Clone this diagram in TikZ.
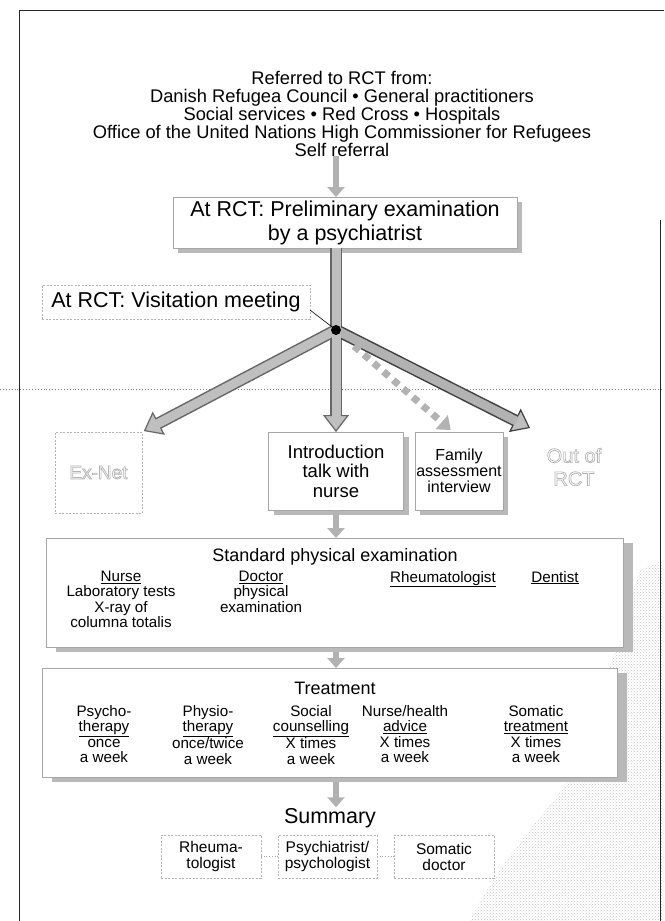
\documentclass[tikz,border=0pt]{standalone}
\usepackage{fontspec}
\setmainfont{Liberation Sans}
\usetikzlibrary{arrows.meta,shadows,calc,patterns}
\newcommand{\myfs}[2]{\fontsize{#1}{#2}\selectfont}
\newcommand{\hollow}[1]{\special{pdf:literal direct 1 Tr 0.7 w}#1\special{pdf:literal direct 0 Tr}}
\begin{document}
\begin{tikzpicture}[x=1pt,y=-1pt,
  every node/.style={inner sep=0pt, outer sep=0pt},
  sbox/.style={draw=gray!70, line width=0.6pt, fill=white, align=center,
    drop shadow={shadow xshift=#1, shadow yshift=-5pt, fill=gray!55, opacity=1}},
  sbox/.default=5pt,
  dbox/.style={draw=gray!60, line width=0.6pt, dash pattern=on 2pt off 1.5pt, fill=white, align=center},
  fatline/.style={draw=black!60, line width=12pt, -{Triangle[width=26pt,length=17pt,fill=gray!50,line width=1.2pt]}},
  fatfill/.style={draw=gray!50, line width=9pt, shorten >=15pt},
  smallarrow/.style={draw=gray!60, line width=6pt, -{Triangle[width=17pt,length=10pt]}},
  dasharrow/.style={draw=gray!60, line width=7pt, dash pattern=on 7pt off 6pt, -{Triangle[width=18pt,length=12pt]}},
  coltext/.style={align=center, anchor=north, font=\myfs{15.2}{15.5}},
]
\path[use as bounding box] (0,0) rectangle (664,921);

% scan speckle at lower right
\fill[pattern=crosshatch dots, pattern color=gray!45]
  (664,560) -- (640,570) .. controls (615,650) and (600,700) .. (585,760)
  .. controls (540,820) and (500,860) .. (470,921) -- (664,921) -- cycle;

% frame
\draw[black!85, line width=1pt] (19,921) -- (19,10) -- (664,10);
\draw[black!85, line width=1pt] (660,220) -- (660,921);
\draw[gray, dotted, line width=0.9pt] (0,389) -- (664,389);

% header
\node[align=center, font=\myfs{18.3}{17.8}] (header) at (342,114)
  {Referred to RCT from:\\
   Danish Refugea Council • General practitioners\\
   Social services • Red Cross • Hospitals\\
   Office of the United Nations High Commissioner for Refugees\\
   Self referral};

\coordinate (hub) at (336,330);

\node[sbox, minimum width=344, minimum height=51, font=\myfs{21.5}{24}] (prelim) at (345,222.5)
  {At RCT: Preliminary examination\\by a psychiatrist};
\node[dbox, minimum width=268, minimum height=34, font=\myfs{21.5}{24}] (vis) at (176,302)
  {At RCT: Visitation meeting};

\node[sbox, minimum width=135, minimum height=78, font=\myfs{18.5}{19.5}] (intro) at (336,471)
  {Introduction\\talk with\\nurse};
\node[sbox, minimum width=88, minimum height=78, font=\myfs{16}{16}] (family) at (459,471)
  {Family\\assessment\\interview};
\node[dbox, minimum width=87, minimum height=81, font=\myfs{19}{20}, text=gray!60] (exnet) at (98.5,472.5)
  {\hollow{Ex-Net}};
\node[align=center, font=\myfs{20}{23}, text=gray!60] (out) at (574,467) {\hollow{Out of}\\\hollow{RCT}};
\coordinate (outtip) at (530,428);

% arrows
\draw[smallarrow] (header.south -| hub) -- (prelim.north -| hub);
\draw[fatline] (prelim.south -| hub) -- (intro.north);
\draw[fatline, shorten >=2pt] (hub) -- (exnet.north east);
\draw[fatline, draw=black!75] (hub) -- (outtip);
\draw[fatfill, shorten >=17pt] (hub) -- (exnet.north east);
\draw[fatfill, draw=gray!60] (hub) -- (outtip);
\draw[fatfill] (prelim.south -| hub) -- (intro.north);
\coordinate (dashstart) at (354,346);
\draw[dasharrow, shorten >=3pt] (dashstart) -- ([xshift=-6pt]family.north);
\draw[black, line width=0.6pt] ([yshift=-8pt]vis.east) -- (hub);
\fill (hub) circle (5);

% standard physical examination
\node[sbox=10pt, minimum width=577, minimum height=109] (std) at (334.5,592.5) {};
\node[font=\myfs{18}{20}] (stdtitle) at (335,557) {Standard physical examination};
\node[coltext] (nurse) at (121,571) {\underline{Nurse}\\Laboratory tests\\X-ray of\\columna totalis};
\node[coltext] (doctor) at (261,571) {\underline{Doctor}\\physical\\examination};
\node[coltext] (rheum) at (443,571) {\underline{Rheumatologist}};
\node[coltext] (dentist) at (555,571) {\underline{Dentist}};

% treatment
\node[sbox=10pt, minimum width=575, minimum height=109] (treat) at (329.5,722.5) {};
\node[font=\myfs{18}{20}] (treattitle) at (335,688) {Treatment};
\node[coltext] (t1) at (104,705) {Psycho-\\\underline{therapy}\\once\\a week};
\node[coltext] (t2) at (208,705) {Physio-\\\underline{therapy}\\once/twice\\a week};
\node[coltext] (t3) at (311,705) {Social\\\underline{counselling}\\X times\\a week};
\node[coltext] (t4) at (405,705) {Nurse/health\\\underline{advice}\\X times\\a week};
\node[coltext] (t5) at (536,705) {Somatic\\\underline{treatment}\\X times\\a week};

\draw[smallarrow] (intro.south) -- (std.north -| intro.south);
\draw[smallarrow, shorten <=5pt] (std.south -| hub) -- (treat.north -| hub);

% summary
\node[font=\myfs{21.5}{24}] (summary) at (330,818) {Summary};
\draw[smallarrow, shorten <=5pt] (treat.south -| hub) -- ([yshift=1pt]summary.north -| hub);
\node[dbox, minimum width=100, minimum height=43, font=\myfs{15.5}{16}] (s1) at (211,856.5) {Rheuma-\\tologist};
\node[dbox, minimum width=99, minimum height=43, font=\myfs{15.5}{16}] (s2) at (327.5,856.5) {Psychiatrist/\\psychologist};
\node[dbox, minimum width=100, minimum height=43, font=\myfs{15.5}{16}] (s3) at (444,856.5) {Somatic\\doctor};
\draw[gray!70, dotted, line width=0.7pt] (s1) -- (s2);
\draw[gray!70, dotted, line width=0.7pt] (s2) -- (s3);
\end{tikzpicture}
\end{document}
